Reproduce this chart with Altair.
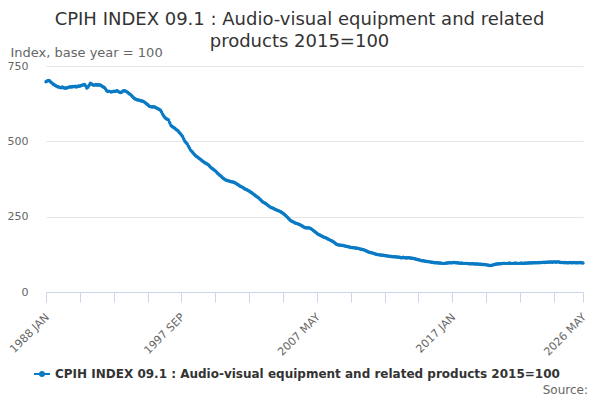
import altair as alt
import pandas as pd

series_name = "CPIH INDEX 09.1 : Audio-visual equipment and related products 2015=100"
month_names = ["JAN", "FEB", "MAR", "APR", "MAY", "JUN", "JUL", "AUG", "SEP", "OCT", "NOV", "DEC"]

v1988 = [698, 700, 702, 701, 697, 694, 690, 688, 685, 683, 681, 680]
v1989 = [679, 678, 680, 678, 677, 676, 678, 679, 680, 681, 680, 682]
v1990 = [681, 683, 680, 682, 684, 683, 685, 686, 688, 689, 684, 677]
v1991 = [680, 686, 693, 690, 688, 686, 687, 689, 686, 688, 687, 686]
v1992 = [683, 680, 679, 674, 668, 665, 666, 665, 664, 665, 666, 665]
v1993 = [667, 668, 665, 663, 662, 664, 667, 668, 667, 665, 662, 659]
v1994 = [656, 653, 649, 645, 641, 640, 638, 637, 636, 635, 634, 633]
v1995 = [631, 628, 625, 622, 618, 616, 615, 614, 615, 614, 612, 610]
v1996 = [608, 606, 603, 597, 590, 583, 578, 575, 573, 571, 562, 553]
v1997 = [549, 547, 544, 541, 538, 535, 530, 526, 521, 516, 508, 500]
v1998 = [495, 491, 484, 477, 470, 466, 461, 457, 453, 450, 447, 444]
v1999 = [441, 438, 435, 432, 429, 427, 425, 422, 418, 414, 411, 408]
v2000 = [405, 402, 398, 394, 391, 387, 384, 380, 377, 374, 372, 370]
v2001 = [369, 368, 367, 366, 365, 364, 362, 360, 357, 355, 352, 350]
v2002 = [348, 346, 343, 341, 339, 337, 335, 332, 330, 327, 324, 321]
v2003 = [318, 315, 313, 309, 305, 301, 298, 296, 294, 291, 288, 285]
v2004 = [282, 280, 279, 277, 275, 273, 271, 270, 268, 266, 264, 261]
v2005 = [258, 255, 251, 247, 243, 239, 236, 234, 232, 230, 228, 227]
v2006 = [226, 224, 222, 220, 218, 215, 213, 213, 212, 213, 212, 210]
v2007 = [207, 204, 201, 198, 195, 192, 190, 188, 186, 184, 182, 181]
v2008 = [179, 177, 175, 173, 171, 169, 167, 164, 161, 158, 157, 156]
v2009 = [155, 155, 154, 154, 153, 152, 151, 150, 149, 148, 148, 147]
v2010 = [147, 146, 145, 145, 144, 143, 142, 141, 140, 139, 137, 135]
v2011 = [133, 132, 131, 130, 129, 128, 126, 125, 124, 124, 123, 123]
v2012 = [122, 122, 121, 120, 120, 119, 119, 118, 118, 117, 117, 117]
v2013 = [116, 116, 115, 115, 114, 114, 115, 114, 114, 113, 114, 114]
v2014 = [113, 112, 112, 111, 110, 109, 108, 107, 106, 105, 104, 104]
v2015 = [103, 102, 101, 101, 100, 100, 99, 99, 98, 97, 97, 97]
v2016 = [96, 96, 96, 95, 95, 95, 95, 96, 96, 97, 97, 97]
v2017 = [97, 98, 98, 97, 97, 96, 96, 95, 96, 95, 95, 95]
v2018 = [95, 95, 94, 94, 94, 94, 94, 93, 93, 93, 93, 92]
v2019 = [92, 92, 91, 91, 91, 90, 90, 89, 88, 88, 89, 90]
v2020 = [91, 92, 93, 93, 94, 94, 94, 95, 95, 95, 95, 95]
v2021 = [95, 96, 95, 95, 95, 95, 96, 95, 95, 95, 95, 96]
v2022 = [95, 95, 96, 95, 96, 96, 96, 97, 96, 97, 97, 97]
v2023 = [97, 97, 98, 97, 98, 98, 99, 98, 99, 99, 99, 100]
v2024 = [99, 100, 99, 100, 100, 99, 100, 100, 99, 98, 98, 98]
v2025 = [97, 98, 97, 97, 97, 98, 97, 97, 98, 97, 97, 97]
v2026 = [97, 98, 97, 97, 96]

years = [
    (1988, v1988), (1989, v1989), (1990, v1990), (1991, v1991), (1992, v1992),
    (1993, v1993), (1994, v1994), (1995, v1995), (1996, v1996), (1997, v1997),
    (1998, v1998), (1999, v1999), (2000, v2000), (2001, v2001), (2002, v2002),
    (2003, v2003), (2004, v2004), (2005, v2005), (2006, v2006), (2007, v2007),
    (2008, v2008), (2009, v2009), (2010, v2010), (2011, v2011), (2012, v2012),
    (2013, v2013), (2014, v2014), (2015, v2015), (2016, v2016), (2017, v2017),
    (2018, v2018), (2019, v2019), (2020, v2020), (2021, v2021), (2022, v2022),
    (2023, v2023), (2024, v2024), (2025, v2025), (2026, v2026),
]

tick_labels = ["1988 JAN", "1997 SEP", "2007 MAY", "2017 JAN", "2026 MAY"]
y_ticks = [0, 250, 500, 750]

rows = []
for yr, vals in years:
    for i, v in enumerate(vals):
        rows.append({"label": f"{yr} {month_names[i]}", "value": v, "series": series_name})
df = pd.DataFrame(rows)
df["idx"] = range(len(df))

label_pos = {lab: int(df.index[df["label"] == lab][0]) for lab in tick_labels}
last = len(df) - 1
tick_vals = list(range(0, last, (label_pos["1997 SEP"]) // 4))
if tick_vals[-1] != last:
    tick_vals.append(last)
label_expr = " : ".join(
    [f"datum.value == {p} ? '{lab}'" for lab, p in label_pos.items()]
) + " : ''"

BLUE = "#0a7ac4"
FONT = "DejaVu Sans"

legend_path = ("M-1,0L1,0M-0.25,0A0.25,0.25,0,1,1,0.25,0"
               "A0.25,0.25,0,1,1,-0.25,0Z")

base = alt.Chart(df)
line = base.mark_line(
    strokeWidth=2,
    point=alt.OverlayMarkDef(size=12, filled=True, color=BLUE),
).encode(
    x=alt.X(
        "idx:Q",
        scale=alt.Scale(domain=[0, last], nice=False, zero=False),
        axis=alt.Axis(
            values=tick_vals,
            labelExpr=label_expr,
            title=None,
            grid=False,
            domainColor="#ccd6eb",
            tickColor="#ccd6eb",
            tickSize=10,
            labelAngle=-45,
            labelAlign="right",
            labelBaseline="top",
            labelPadding=9,
            labelOffset=-3,
            labelFontSize=11,
            labelColor="#666666",
            labelFont=FONT,
            labelOverlap=False,
            labelFlush=False,
        ),
    ),
    y=alt.Y(
        "value:Q",
        scale=alt.Scale(domain=[0, 750], nice=False),
        axis=alt.Axis(
            values=y_ticks,
            title="Index, base year = 100",
            titleAngle=0,
            titleAlign="left",
            titleBaseline="alphabetic",
            titleX=-36,
            titleY=-10,
            titleFontSize=13,
            titleFontWeight="normal",
            titleColor="#666666",
            titleFont=FONT,
            domain=False,
            ticks=False,
            gridColor="#e6e6e6",
            labelFontSize=11,
            labelColor="#666666",
            labelFont=FONT,
            labelPadding=18,
            labelBaseline="middle",
        ),
    ),
    color=alt.Color(
        "series:N",
        scale=alt.Scale(range=[BLUE]),
        legend=alt.Legend(
            title=None,
            orient="none",
            legendX=-13,
            legendY=299,
            symbolType=legend_path,
            symbolSize=256,
            symbolStrokeWidth=2,
            symbolFillColor=BLUE,
            symbolStrokeColor=BLUE,
            labelFontSize=12,
            labelFontWeight="bold",
            labelColor="#333333",
            labelFont=FONT,
            labelLimit=800,
        ),
    ),
)

source = alt.Chart(pd.DataFrame({"t": ["Source:"]})).mark_text(
    align="right", baseline="middle", fontSize=12, color="#666666", font=FONT
).encode(text="t:N", x=alt.value(542), y=alt.value(324))

chart = alt.layer(line, source).properties(
    width=537,
    height=226,
    autosize=alt.AutoSizeParams(type="none"),
    padding={"left": 38, "top": 58, "right": 9, "bottom": 108},
    title=alt.TitleParams(
        text=["CPIH INDEX 09.1 : Audio-visual equipment and related", "products 2015=100"],
        fontSize=18,
        font=FONT,
        fontWeight="normal",
        color="#333333",
        anchor="middle",
        dx=-15,
        dy=22,
        offset=17,
        lineHeight=22,
    ),
).configure_view(stroke=None)

chart.save("out.html", embed_options={"renderer": "svg", "actions": False})
